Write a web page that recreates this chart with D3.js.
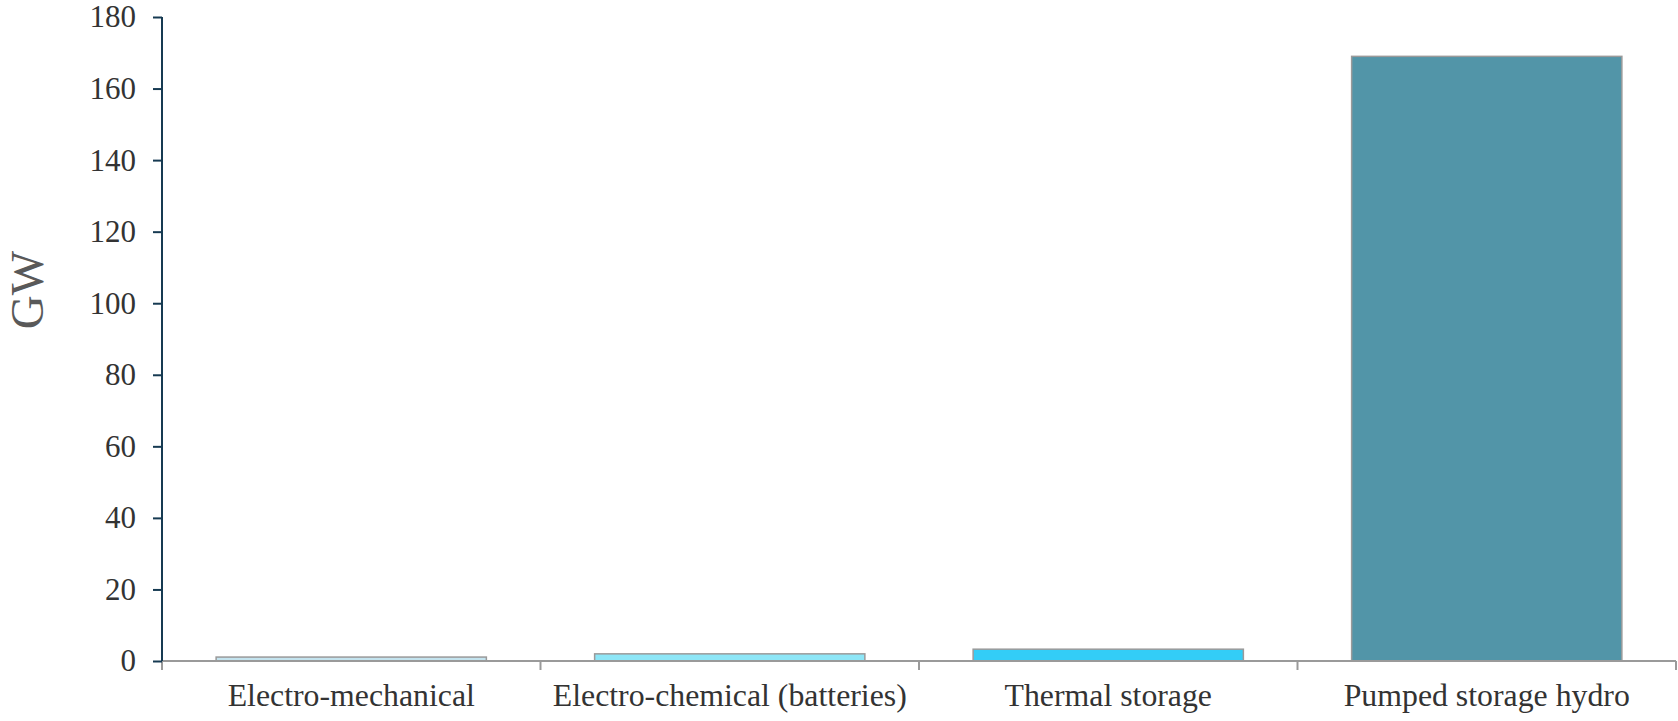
<!DOCTYPE html>
<html>
<head>
<meta charset="utf-8">
<script src="https://cdn.jsdelivr.net/npm/d3@7"></script>
<style>
  html, body { margin: 0; padding: 0; background: #fff; }
  svg { display: block; }
</style>
</head>
<body>
<svg id="chart" width="1678" height="721"></svg>
<script>
const categories = ["Electro-mechanical", "Electro-chemical (batteries)", "Thermal storage", "Pumped storage hydro"];
const values = [1.1, 2.0, 3.3, 169];
const colors = ["#c4e4ef", "#8de6f7", "#33cdf7", "#5295a8"];
const yTicks = [0, 20, 40, 60, 80, 100, 120, 140, 160, 180];
const yLabel = "GW";

const svg = d3.select("#chart");
const margin = { left: 162, right: 2, top: 17, bottom: 60 };
const W = 1678, H = 721;

const x = d3.scaleBand().domain(categories).range([margin.left, W - margin.right]).paddingInner(0.286).paddingOuter(0.143);
const y = d3.scaleLinear().domain([0, 180]).range([H - margin.bottom, margin.top]);

const font = "'Liberation Serif', 'Times New Roman', serif";

// bars
svg.append("g").selectAll("rect").data(values).join("rect")
  .attr("x", (d, i) => x(categories[i]))
  .attr("width", x.bandwidth())
  .attr("y", d => y(d))
  .attr("height", d => y(0) - y(d))
  .attr("fill", (d, i) => colors[i])
  .attr("stroke", "#9a9a9a")
  .attr("stroke-width", 1.5);

// x axis
const xAxis = d3.axisBottom(x).tickSize(9).tickFormat(d => d);
const gx = svg.append("g").attr("transform", `translate(0,${y(0)})`).call(xAxis);
gx.select(".domain").attr("stroke", "#9a9a9a").attr("stroke-width", 2)
  .attr("d", `M${margin.left},0H${W - margin.right}`);
gx.selectAll(".tick line").remove();
gx.selectAll(".edge").data(d3.range(categories.length + 1)).join("line")
  .attr("class", "edge")
  .attr("x1", i => margin.left + i * x.step() * (1 + 0) )
  .attr("x2", i => margin.left + i * x.step())
  .attr("y1", 0).attr("y2", 9)
  .attr("stroke", "#9a9a9a").attr("stroke-width", 2);
gx.selectAll(".tick text")
  .attr("font-family", font).attr("font-size", 31.8).attr("fill", "#333")
  .attr("y", 22).attr("dy", "0.71em");

// y axis
const yAxis = d3.axisLeft(y).tickValues(yTicks).tickSize(9).tickPadding(17).tickFormat(d3.format("d"));
const gy = svg.append("g").attr("transform", `translate(${margin.left},0)`).call(yAxis);
gy.select(".domain").attr("stroke", "#163a52").attr("stroke-width", 2)
  .attr("d", `M0,${y(180)}V${y(0)}`);
gy.selectAll(".tick line").attr("stroke", "#163a52").attr("stroke-width", 2);
gy.selectAll(".tick text")
  .attr("font-family", font).attr("font-size", 31).attr("fill", "#333");

// y label
svg.append("text")
  .attr("transform", `translate(43,290) rotate(-90)`)
  .attr("text-anchor", "middle")
  .attr("font-family", font).attr("font-size", 47).attr("fill", "#595959")
  .text(yLabel);
</script>
</body>
</html>
